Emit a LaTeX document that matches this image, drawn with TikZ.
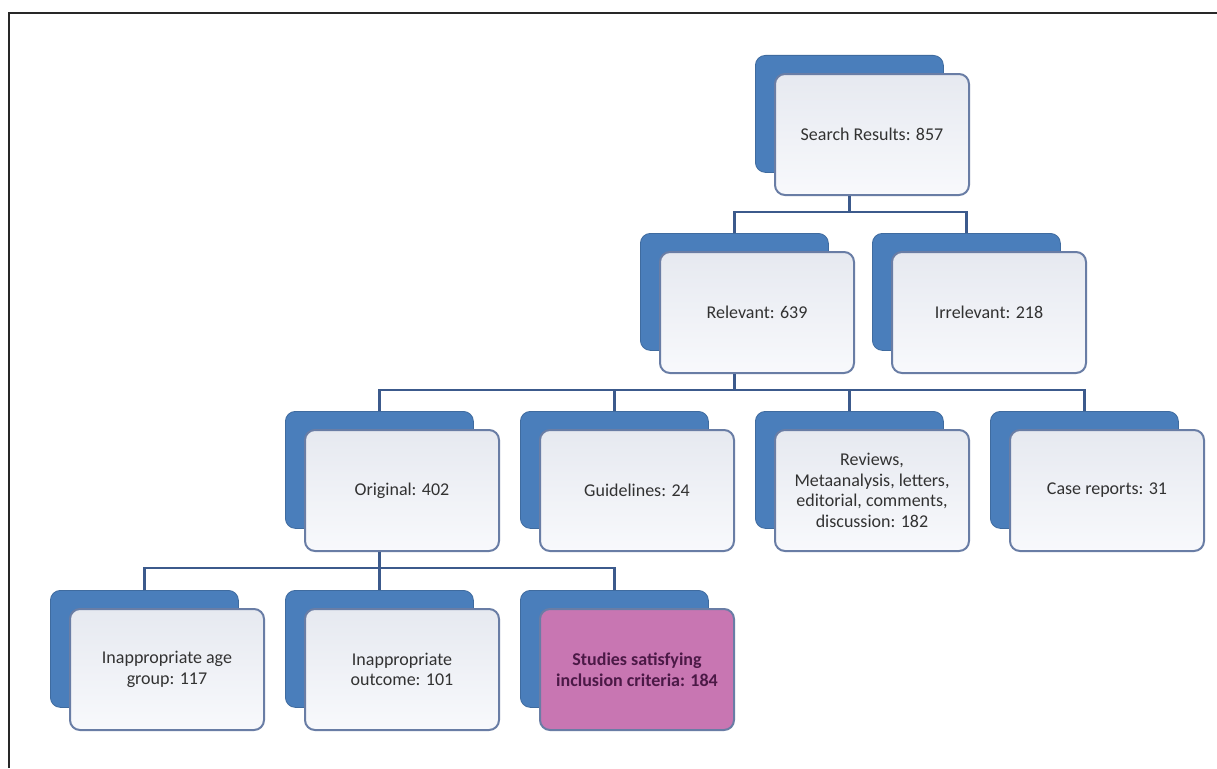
\documentclass[tikz,border=0pt]{standalone}
\usepackage{fontspec}
\setmainfont{Carlito}
\definecolor{backblue}{RGB}{74,126,187}
\definecolor{frontedge}{RGB}{105,125,165}
\definecolor{linkblue}{RGB}{60,90,140}
\definecolor{txt}{RGB}{50,50,50}
\definecolor{pinkfill}{RGB}{200,118,178}
\definecolor{pinktxt}{RGB}{75,25,70}
\definecolor{fronttop}{RGB}{230,233,240}
\definecolor{frontbot}{RGB}{248,249,252}
\definecolor{framecol}{RGB}{40,40,40}
\tikzset{
  backbox/.style={fill=backblue, draw=backblue!85!black, line width=0.8pt,
    rounded corners=10pt, minimum width=188pt, minimum height=117pt,
    anchor=north west, inner sep=0pt},
  frontbox/.style={draw=frontedge, line width=2pt, rounded corners=10pt,
    top color=fronttop, bottom color=frontbot,
    minimum width=194pt, minimum height=121pt, anchor=north west,
    inner sep=0pt, align=center, font=\fontsize{18}{20.5}\selectfont, text=txt},
  pinkbox/.style={frontbox, top color=pinkfill, bottom color=pinkfill,
    text=pinktxt, font=\fontsize{18}{20.5}\selectfont\bfseries},
  link/.style={draw=linkblue, line width=2.5pt},
  frameline/.style={draw=framecol, line width=2pt}
}
\newcommand\flowbox[5]{%
  \node[backbox] (#1-b) at (#2,#3) {};
  \node[#4] (#1) at ({#2+19},{#3+18}) {#5};
}
\begin{document}
\begin{tikzpicture}[x=1pt,y=-1pt]
\useasboundingbox (0,0) rectangle (1217,768);
\fill[white] (0,0) rectangle (1217,768);
\draw[frameline] (9,768) -- (9,13) -- (1217,13);

\coordinate (bus1) at (0,212);
\coordinate (bus2) at (0,390);
\coordinate (bus3) at (0,568);

\flowbox{search}{755}{55}{frontbox}{Search Results: 857}
\flowbox{relevant}{640}{233}{frontbox}{Relevant: 639}
\flowbox{irrelevant}{872}{233}{frontbox}{Irrelevant: 218}
\flowbox{original}{285}{411}{frontbox}{Original: 402}
\flowbox{guidelines}{520}{411}{frontbox}{Guidelines: 24}
\flowbox{reviews}{755}{411}{frontbox}{Reviews,\\Metaanalysis, letters,\\editorial, comments,\\discussion: 182}
\flowbox{cases}{990}{411}{frontbox}{Case reports: 31}
\flowbox{age}{50}{590}{frontbox}{Inappropriate age\\group: 117}
\flowbox{outcome}{285}{590}{frontbox}{Inappropriate\\outcome: 101}
\flowbox{studies}{520}{590}{pinkbox}{Studies satisfying\\inclusion criteria: 184}

\draw[link] (search-b.center |- search.south) -- (search-b.center |- bus1);
\draw[link] (relevant-b.north) |- (irrelevant-b.center |- bus1) -- (irrelevant-b.north);

\draw[link] (relevant-b.center |- relevant.south) -- (relevant-b.center |- bus2);
\draw[link] (original-b.north) |- (cases-b.center |- bus2) -- (cases-b.north);
\draw[link] (guidelines-b.center |- bus2) -- (guidelines-b.north);
\draw[link] (reviews-b.center |- bus2) -- (reviews-b.north);

\draw[link] (original-b.center |- original.south) -- (original-b.center |- bus3);
\draw[link] (age-b.north) |- (studies-b.center |- bus3) -- (studies-b.north);
\draw[link] (outcome-b.center |- bus3) -- (outcome-b.north);
\end{tikzpicture}
\end{document}
